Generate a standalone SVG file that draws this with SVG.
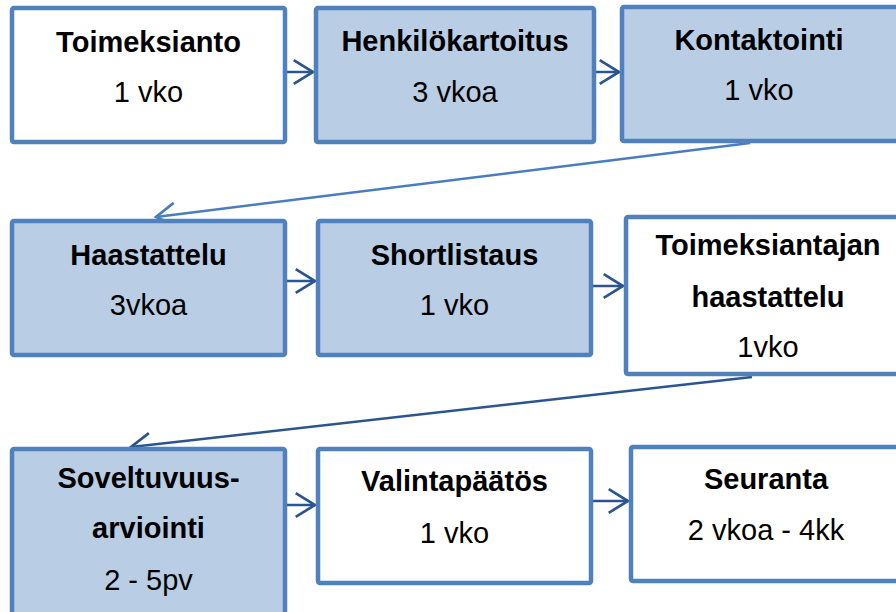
<svg xmlns="http://www.w3.org/2000/svg" width="896" height="612" viewBox="0 0 896 612">
  <defs>
    <style>
      .box { stroke: #4F81BD; stroke-width: 4.5; }
      .blue { fill: #B9CDE5; }
      .white { fill: #FFFFFF; }
      .t { font-family: "Liberation Sans", Arial, sans-serif; font-size: 29px; font-weight: bold; fill: #000; text-anchor: middle; }
      .s { font-family: "Liberation Sans", Arial, sans-serif; font-size: 29px; fill: #000; text-anchor: middle; }
      .conn { fill: none; stroke-width: 2.5; }
      .dark { stroke: #2C5590; }
      .light { stroke: #4A7EBB; }
    </style>
    <marker id="ahDark" markerUnits="userSpaceOnUse" markerWidth="30" markerHeight="30" refX="0" refY="0" viewBox="-22 -14 26 28" orient="auto" overflow="visible">
      <path d="M-18,-11 L0,0 L-18,11" fill="none" stroke="#2C5590" stroke-width="2.5"/>
    </marker>
    <marker id="ahLight" markerUnits="userSpaceOnUse" markerWidth="30" markerHeight="30" refX="0" refY="0" viewBox="-22 -14 26 28" orient="auto" overflow="visible">
      <path d="M-18,-11 L0,0 L-18,11" fill="none" stroke="#4A7EBB" stroke-width="2.5"/>
    </marker>
  </defs>
  <rect width="896" height="612" fill="#FFFFFF"/>

  <g id="connectors">
    <line class="conn dark" x1="287" y1="72" x2="313" y2="72" marker-end="url(#ahDark)"/>
    <line class="conn dark" x1="596" y1="72" x2="619" y2="72" marker-end="url(#ahDark)"/>
    <line class="conn light" x1="750" y1="143" x2="156" y2="217" marker-end="url(#ahLight)"/>
    <line class="conn dark" x1="287" y1="281" x2="315" y2="281" marker-end="url(#ahDark)"/>
    <line class="conn dark" x1="593" y1="286" x2="623" y2="286" marker-end="url(#ahDark)"/>
    <line class="conn dark" x1="752" y1="377" x2="131" y2="447" marker-end="url(#ahDark)"/>
    <line class="conn dark" x1="287" y1="505" x2="315" y2="505" marker-end="url(#ahDark)"/>
    <line class="conn dark" x1="593" y1="501" x2="628" y2="501" marker-end="url(#ahDark)"/>
  </g>

  <g id="toimeksianto">
    <rect class="box white" x="12" y="8" width="273" height="134" rx="2"/>
    <text class="t" x="148.5" y="52">Toimeksianto</text>
    <text class="s" x="148.5" y="102">1 vko</text>
  </g>
  <g id="henkilokartoitus">
    <rect class="box blue" x="316" y="8" width="278" height="134" rx="2"/>
    <text class="t" x="455" y="51">Henkilökartoitus</text>
    <text class="s" x="455" y="102">3 vkoa</text>
  </g>
  <g id="kontaktointi">
    <rect class="box blue" x="622" y="7" width="290" height="134" rx="2"/>
    <text class="t" x="759" y="50">Kontaktointi</text>
    <text class="s" x="759" y="100">1 vko</text>
  </g>

  <g id="haastattelu">
    <rect class="box blue" x="12" y="221" width="273" height="134" rx="2"/>
    <text class="t" x="148.5" y="265">Haastattelu</text>
    <text class="s" x="148.5" y="315">3vkoa</text>
  </g>
  <g id="shortlistaus">
    <rect class="box blue" x="318" y="221" width="273" height="134" rx="2"/>
    <text class="t" x="454.5" y="265">Shortlistaus</text>
    <text class="s" x="454.5" y="315">1 vko</text>
  </g>
  <g id="toimeksiantajan-haastattelu">
    <rect class="box white" x="626" y="217" width="290" height="157" rx="2"/>
    <text class="t" x="768" y="255">Toimeksiantajan</text>
    <text class="t" x="768" y="307">haastattelu</text>
    <text class="s" x="768" y="357">1vko</text>
  </g>

  <g id="soveltuvuusarviointi">
    <rect class="box blue" x="12" y="449" width="273" height="200" rx="2"/>
    <text class="t" x="148.5" y="488">Soveltuvuus-</text>
    <text class="t" x="148.5" y="538">arviointi</text>
    <text class="s" x="148.5" y="590">2 - 5pv</text>
  </g>
  <g id="valintapaatos">
    <rect class="box white" x="318" y="449" width="273" height="134" rx="2"/>
    <text class="t" x="454.5" y="491">Valintapäätös</text>
    <text class="s" x="454.5" y="543">1 vko</text>
  </g>
  <g id="seuranta">
    <rect class="box white" x="631" y="447" width="290" height="134" rx="2"/>
    <text class="t" x="766" y="489">Seuranta</text>
    <text class="s" x="766" y="540">2 vkoa - 4kk</text>
  </g>
</svg>
